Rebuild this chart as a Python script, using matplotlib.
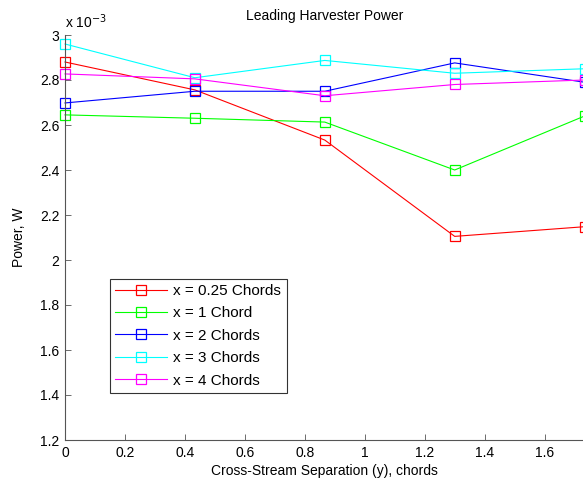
import numpy as np
import matplotlib
matplotlib.use('Agg')
import matplotlib.pyplot as plt

plt.rcParams['font.family'] = ['Liberation Sans', 'DejaVu Sans']

sep = [0, 0.433, 0.866, 1.299, 1.732]
p_025 = [2.88, 2.756, 2.533, 2.105, 2.148]
p_1 = [2.645, 2.63, 2.613, 2.40, 2.64]
p_2 = [2.698, 2.75, 2.75, 2.876, 2.79]
p_3 = [2.96, 2.81, 2.887, 2.83, 2.85]
p_4 = [2.827, 2.805, 2.73, 2.78, 2.80]
labels = ['x = 0.25 Chords', 'x = 1 Chord', 'x = 2 Chords', 'x = 3 Chords', 'x = 4 Chords']
colors = ['#ff0000', '#00ff00', '#0000ff', '#00ffff', '#ff00ff']

fig = plt.figure(figsize=(5.83, 4.86), dpi=100)
W, H = 583, 486
left, right, top, bottom = 65, 584.6, 35, 440
ax = fig.add_axes([left / W, 1 - bottom / H, (right - left) / W, (bottom - top) / H])

for s, lab, c in zip([p_025, p_1, p_2, p_3, p_4], labels, colors):
    ax.plot(sep, np.array(s) * 1e-3, color=c, lw=0.8, marker='s', ms=7.5,
            mfc='none', mec=c, mew=0.9, label=lab, clip_on=False)

ax.set_xlim(0, 1.732)
ax.set_ylim(1.2e-3, 3e-3)
ax.set_xticks(np.arange(0, 1.7, 0.2))
ax.set_xticklabels(['0', '0.2', '0.4', '0.6', '0.8', '1', '1.2', '1.4', '1.6'])
yt = np.arange(1.2, 3.01, 0.2)
ax.set_yticks(yt * 1e-3)
ax.set_yticklabels(['%g' % round(v, 1) for v in yt])
ax.tick_params(direction='in', length=4, width=0.6, labelsize=10, pad=4,
               color='#555555')
ax.spines['top'].set_visible(False)
ax.spines['right'].set_visible(False)
for sp in ['left', 'bottom']:
    ax.spines[sp].set_color('#555555')
    ax.spines[sp].set_linewidth(0.8)

ax.set_title('Leading Harvester Power', fontsize=10, pad=11)
ax.set_xlabel('Cross-Stream Separation (y), chords', fontsize=10, labelpad=3)
ax.set_ylabel('Power, W', fontsize=10, labelpad=10)
fig.text(65 / W, 1 - 22 / H, r'x 10$^{-3}$', fontsize=10, va='center', ha='left')

leg = ax.legend(loc='lower left', bbox_to_anchor=((110 - left) / (right - left), (bottom - 393) / (bottom - top)),
                fontsize=11, frameon=True, fancybox=False, edgecolor='black',
                handlelength=3.4, borderpad=0.35, labelspacing=0.55, handletextpad=0.4,
                borderaxespad=0)
leg.get_frame().set_linewidth(0.8)

fig.savefig('out.png', dpi=100)
